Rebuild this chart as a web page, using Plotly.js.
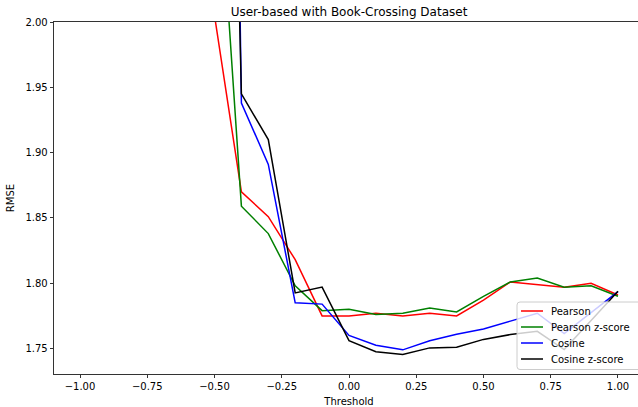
<!DOCTYPE html>
<html>
<head>
<meta charset="utf-8">
<script src="https://cdn.plot.ly/plotly-3.0.1.min.js"></script>
<style>
html, body { margin: 0; padding: 0; overflow: hidden; background: #fff; }
#chart { width: 644px; height: 407px; }
</style>
</head>
<body>
<div id="chart"></div>
<script>
// Threshold values
const thresholds = [-1.0, -0.9, -0.8, -0.7, -0.6, -0.5, -0.4, -0.3, -0.2, -0.1, 0.0, 0.1, 0.2, 0.3, 0.4, 0.5, 0.6, 0.7, 0.8, 0.9, 1.0];

// RMSE per method (values below -0.5 lie above the visible range)
const pearson       = [2.35, 2.33, 2.30, 2.25, 2.15, 2.005, 1.870, 1.851, 1.818, 1.775, 1.775, 1.777, 1.775, 1.777, 1.775, 1.787, 1.801, 1.799, 1.797, 1.800, 1.791];
const pearsonZ      = [2.60, 2.55, 2.50, 2.45, 2.35, 2.166, 1.859, 1.838, 1.798, 1.779, 1.780, 1.776, 1.777, 1.781, 1.778, 1.790, 1.801, 1.804, 1.797, 1.798, 1.790];
const cosine        = [3.60, 3.55, 3.50, 3.45, 3.40, 3.300, 1.938, 1.891, 1.785, 1.784, 1.760, 1.7525, 1.749, 1.756, 1.761, 1.765, 1.771, 1.777, 1.7615, 1.7775, 1.7936];
const cosineZ       = [3.10, 3.05, 3.00, 2.95, 2.90, 2.800, 1.945, 1.910, 1.7926, 1.797, 1.756, 1.7475, 1.7454, 1.7505, 1.751, 1.757, 1.7607, 1.7632, 1.7492, 1.7714, 1.7938];

const seriesNames = ["Pearson", "Pearson z-score", "Cosine", "Cosine z-score"];
const seriesData = [pearson, pearsonZ, cosine, cosineZ];
const seriesColors = ["#ff0000", "#008000", "#0000ff", "#000000"];

const xTicks = [-1.0, -0.75, -0.5, -0.25, 0.0, 0.25, 0.5, 0.75, 1.0];
const yTicks = [1.75, 1.80, 1.85, 1.90, 1.95, 2.00];

const traces = seriesNames.map((name, i) => ({
  type: "scatter",
  mode: "lines",
  name: name,
  x: thresholds,
  y: seriesData[i],
  line: { color: seriesColors[i], width: 1.5 },
  showlegend: false
}));

const font = { family: "DejaVu Sans, sans-serif", size: 10, color: "#000" };

// Plot area geometry (pixels) used to place the matplotlib-style legend box
const W = 644, H = 407, ML = 54, MR = 0, MT = 22, MB = 33;
const PW = W - ML - MR, PH = H - MT - MB;
const px = v => (v - ML) / PW;
const py = v => (H - MB - v) / PH;

// legend box
const bx0 = px(517), bx1 = px(641), by0 = py(369.5), by1 = py(302);
const rx = 3 / PW, ry = 3 / PH;
const boxPath = `M ${bx0 + rx},${by1} L ${bx1 - rx},${by1} Q ${bx1},${by1} ${bx1},${by1 - ry} ` +
  `L ${bx1},${by0 + ry} Q ${bx1},${by0} ${bx1 - rx},${by0} L ${bx0 + rx},${by0} ` +
  `Q ${bx0},${by0} ${bx0},${by0 + ry} L ${bx0},${by1 - ry} Q ${bx0},${by1} ${bx0 + rx},${by1} Z`;

const itemY = [311, 327, 343, 359];
const shapes = [{
  type: "path", path: boxPath, xref: "paper", yref: "paper", layer: "above",
  fillcolor: "rgba(255,255,255,0.8)", line: { color: "#cccccc", width: 1 }
}];
const annotations = [];
seriesNames.forEach((name, i) => {
  shapes.push({
    type: "line", xref: "paper", yref: "paper", layer: "above",
    x0: px(521), x1: px(543), y0: py(itemY[i]), y1: py(itemY[i]),
    line: { color: seriesColors[i], width: 1.5 }
  });
  annotations.push({
    text: name, xref: "paper", yref: "paper",
    x: px(550), y: py(itemY[i]), xanchor: "left", yanchor: "middle",
    showarrow: false, font: font, borderpad: 0
  });
});

const layout = {
  width: W,
  height: H,
  margin: { l: ML, r: MR, t: MT, b: MB },
  paper_bgcolor: "#fff",
  plot_bgcolor: "#fff",
  font: font,
  showlegend: false,
  title: {
    text: "User-based with Book-Crossing Dataset",
    font: { family: "DejaVu Sans, sans-serif", size: 12, color: "#000" },
    x: 0.5, xref: "paper", xanchor: "center",
    y: 0.97, yref: "container", yanchor: "middle"
  },
  xaxis: {
    range: [-1.0967, 1.0967],
    tickvals: xTicks,
    tickformat: ".2f",
    ticks: "outside", ticklen: 3.5, tickwidth: 0.8, tickcolor: "#000",
    showline: true, linecolor: "#000", linewidth: 0.8, mirror: true,
    showgrid: false, zeroline: false,
    tickfont: font,
    title: { text: "Threshold", font: font, standoff: 6 }
  },
  yaxis: {
    range: [1.7305, 2.0],
    tickvals: yTicks,
    tickformat: ".2f",
    ticks: "outside", ticklen: 3.5, tickwidth: 0.8, tickcolor: "#000",
    showline: true, linecolor: "#000", linewidth: 0.8, mirror: true,
    showgrid: false, zeroline: false,
    tickfont: font,
    title: { text: "RMSE", font: font, standoff: 8 }
  },
  shapes: shapes,
  annotations: annotations
};

Plotly.newPlot("chart", traces, layout, { displayModeBar: false, staticPlot: true });
</script>
</body>
</html>
